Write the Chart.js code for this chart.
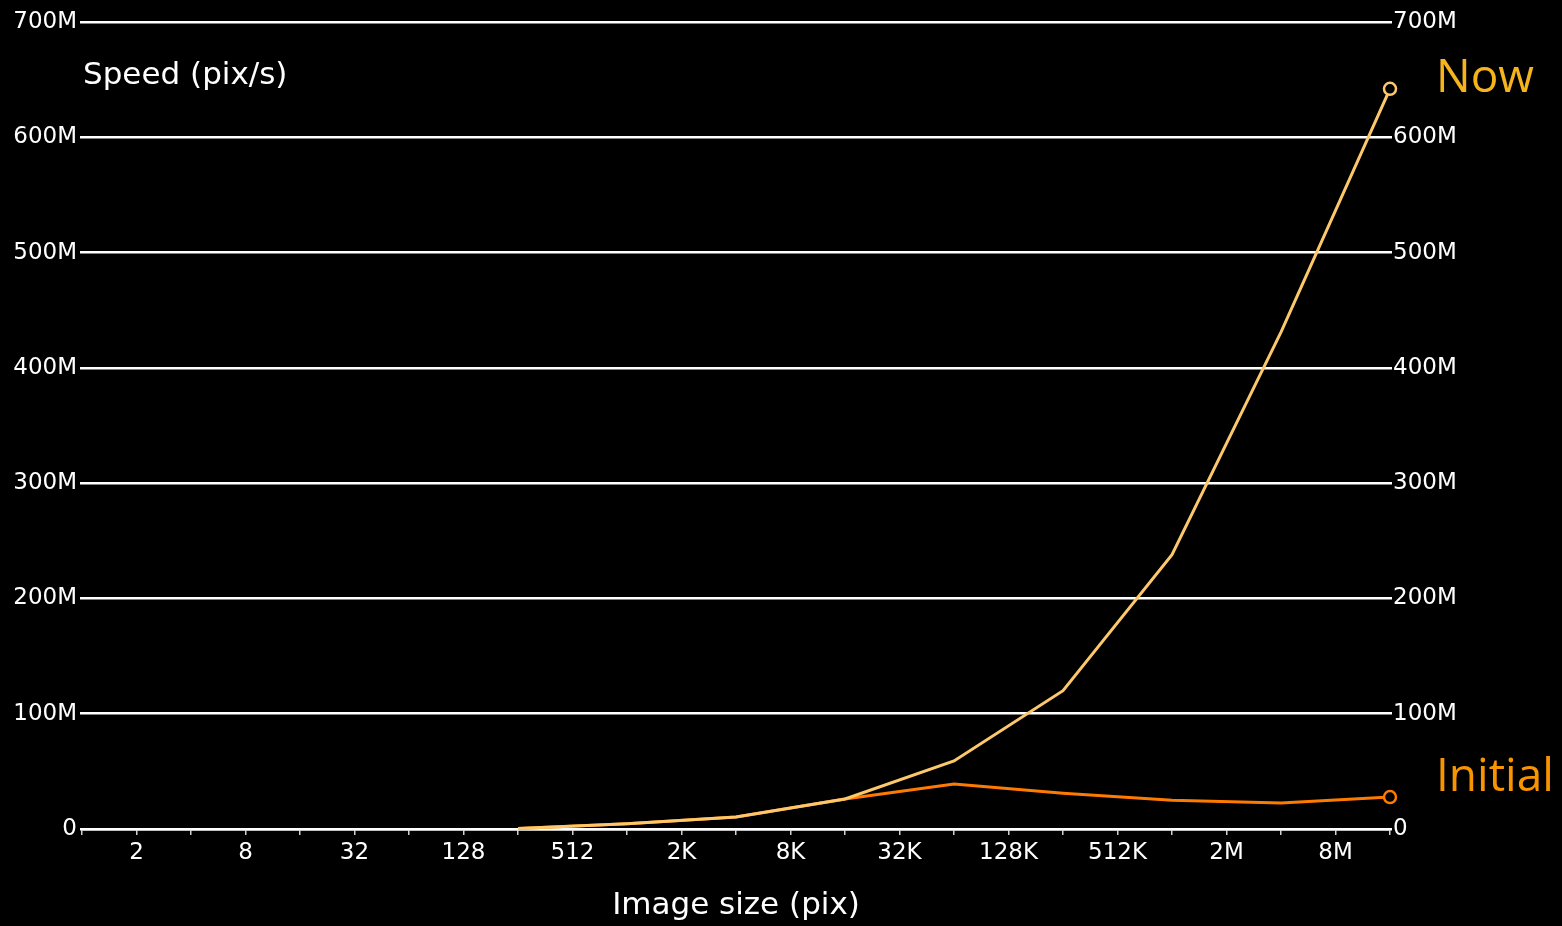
<!DOCTYPE html>
<html>
<head>
<meta charset="utf-8">
<title>Speed vs image size</title>
<script src="https://cdn.jsdelivr.net/npm/chart.js@4.4.1/dist/chart.umd.min.js"></script>
<style>
  html, body { margin: 0; padding: 0; background: #000; }
  #wrap { width: 1562px; height: 926px; }
</style>
</head>
<body>
<div id="wrap"><canvas id="chart" width="1562" height="926"></canvas></div>
<script>
// Image sizes in pixels (powers of two)
const sizes = [256, 1024, 4096, 16384, 65536, 262144, 1048576, 4194304, 16777216];
// Throughput in pixels per second
const speedNow     = [0.5e6, 4.5e6, 10.5e6, 26e6, 59e6, 120e6, 238e6, 431e6, 642e6];
const speedInitial = [0.5e6, 4.5e6, 10.5e6, 26e6, 39e6, 31e6, 25e6, 22.5e6, 27.7e6];
const seriesNames  = ['Now', 'Initial'];
// x tick labels on every second power of two (2^1, 2^3, ...)
const xTickLabels = ['2', '8', '32', '128', '512', '2K', '8K', '32K', '128K', '512K', '2M', '8M'];
const yTickLabels = ['0', '100M', '200M', '300M', '400M', '500M', '600M', '700M'];

const lineColors = ['#fcc86b', '#ff7a00'];
const textColors = ['#f5b31c', '#f79400'];
const axisFont = { family: 'DejaVu Sans', size: 23 };

const lastIdx = sizes.length - 1;
const pointRadius = c => (c.dataIndex === lastIdx ? 6 : 0);

function yTick(v) {
  const i = Math.round(v / 100e6);
  return yTickLabels[i] !== undefined ? yTickLabels[i] : '';
}

// Series names next to the final point, plus the y title inside the plot
const annotations = {
  id: 'annotations',
  afterDraw(chart) {
    const ctx = chart.ctx;
    const area = chart.chartArea;
    ctx.save();
    ctx.fillStyle = '#ffffff';
    ctx.font = '31px "DejaVu Sans"';
    ctx.textAlign = 'left';
    ctx.textBaseline = 'alphabetic';
    ctx.fillText('Speed (pix/s)', area.left + 1, area.top + 62);

    ctx.font = '46px "Open Sans"';
    const offsets = [3, -6];
    chart.data.datasets.forEach((ds, i) => {
      const meta = chart.getDatasetMeta(i);
      const pt = meta.data[meta.data.length - 1];
      ctx.fillStyle = textColors[i];
      ctx.fillText(ds.label, area.right + 46, pt.y + offsets[i]);
    });
    ctx.restore();
  }
};

const makeSet = (label, values, i) => ({
  label: label,
  data: sizes.map((s, k) => ({ x: s, y: values[k] })),
  borderColor: lineColors[i],
  backgroundColor: lineColors[i],
  borderWidth: 3,
  tension: 0,
  pointRadius: pointRadius,
  pointHoverRadius: pointRadius,
  pointBorderWidth: 2.5,
  pointBackgroundColor: '#000000',
  pointBorderColor: lineColors[i],
  clip: false
});

new Chart(document.getElementById('chart'), {
  type: 'line',
  data: {
    datasets: [
      makeSet(seriesNames[0], speedNow, 0),
      makeSet(seriesNames[1], speedInitial, 1)
    ]
  },
  options: {
    responsive: false,
    animation: false,
    events: [],
    layout: { padding: { top: 22, left: 0, right: 0, bottom: 0 } },
    plugins: { legend: { display: false }, tooltip: { enabled: false } },
    scales: {
      x: {
        type: 'logarithmic',
        min: 1,
        max: 16777216,
        afterBuildTicks(scale) {
          const t = [];
          for (let e = 0; e <= 24; e++) t.push({ value: Math.pow(2, e) });
          scale.ticks = t;
        },
        afterFit(scale) { scale.height = 97; },
        ticks: {
          autoSkip: false,
          maxRotation: 0,
          minRotation: 0,
          color: '#ffffff',
          font: axisFont,
          padding: 4,
          callback(v) {
            const e = Math.round(Math.log2(v));
            return e % 2 === 1 ? xTickLabels[(e - 1) / 2] : '';
          }
        },
        grid: {
          display: true,
          drawOnChartArea: false,
          drawTicks: true,
          tickLength: 6,
          color: '#d0d0d0',
          lineWidth: 1.5
        },
        border: { display: true, color: '#ffffff', width: 2.5 },
        title: {
          display: true,
          text: 'Image size (pix)',
          color: '#ffffff',
          font: { family: 'DejaVu Sans', size: 31 },
          padding: { top: 0, bottom: 1 }
        }
      },
      y: {
        position: 'left',
        min: 0,
        max: 700e6,
        afterFit(scale) { scale.width = 82; },
        ticks: {
          stepSize: 100e6,
          color: '#ffffff',
          font: axisFont,
          padding: 3,
          callback: yTick
        },
        grid: { color: '#ffffff', lineWidth: 2.5, tickLength: 2, drawTicks: true },
        border: { display: false }
      },
      y2: {
        position: 'right',
        min: 0,
        max: 700e6,
        afterFit(scale) { scale.width = 172; },
        ticks: {
          stepSize: 100e6,
          color: '#ffffff',
          font: axisFont,
          padding: 1,
          callback: yTick
        },
        grid: { drawOnChartArea: false, color: '#ffffff', lineWidth: 2.5, tickLength: 2, drawTicks: true },
        border: { display: false }
      }
    }
  },
  plugins: [annotations]
});
</script>
</body>
</html>
